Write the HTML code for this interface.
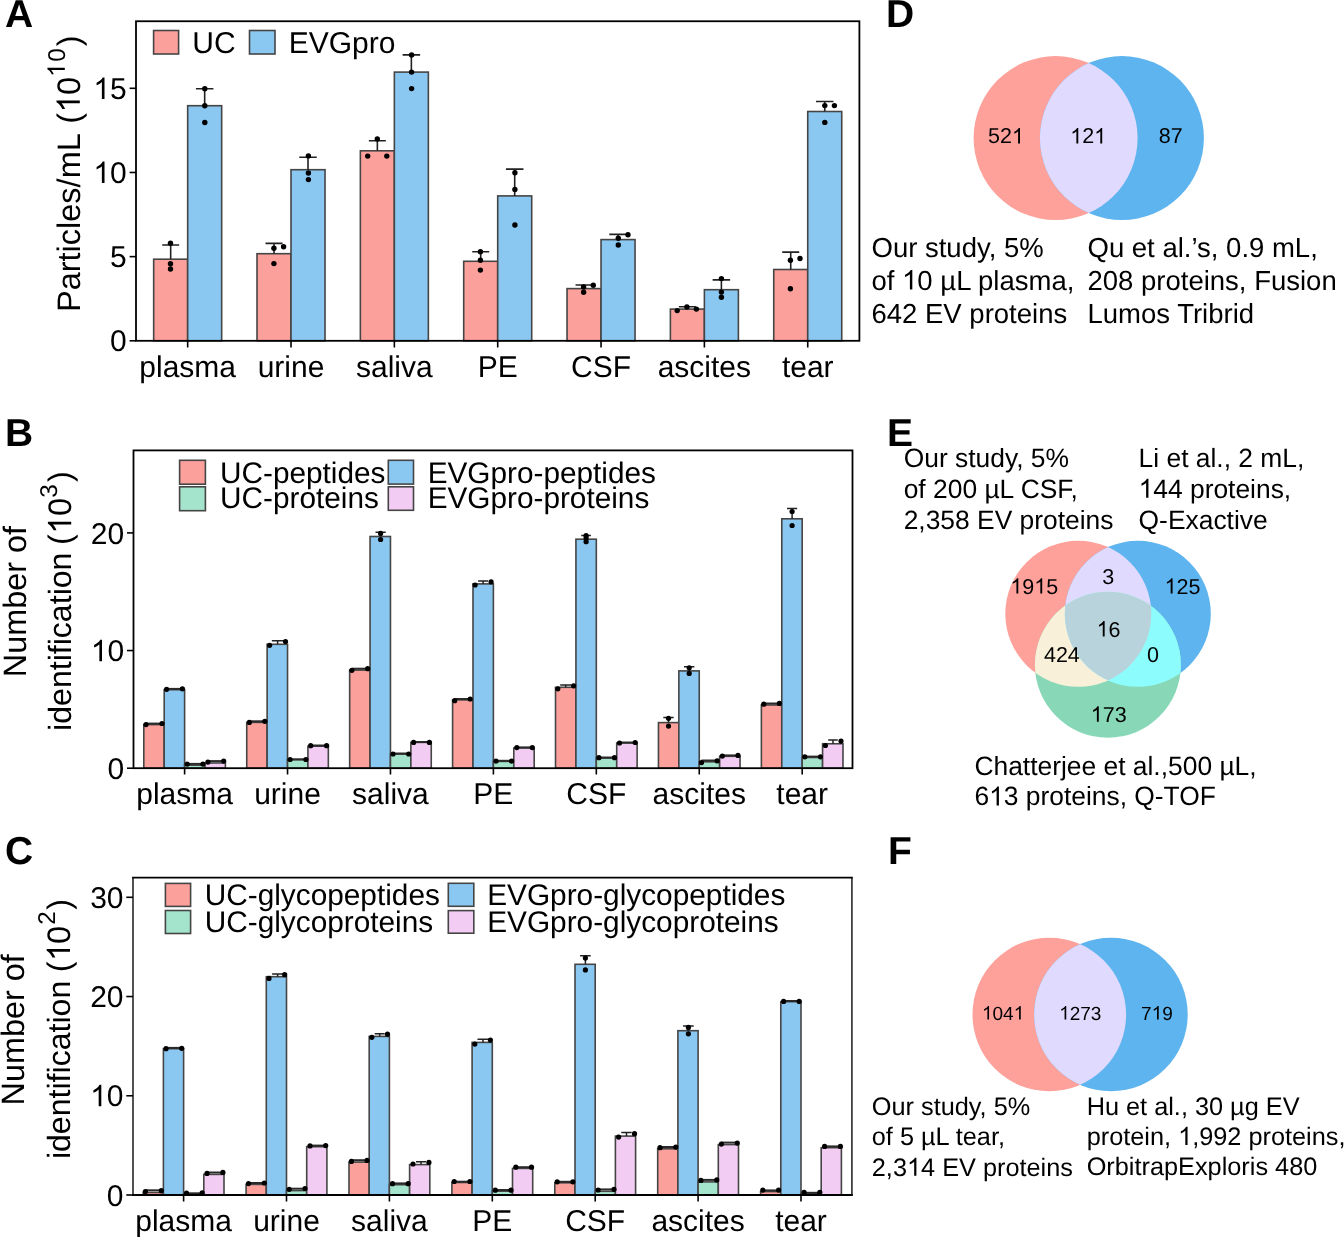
<!DOCTYPE html><html><head><meta charset="utf-8"><style>html,body{margin:0;padding:0;background:#fff;overflow:hidden}svg{display:block;will-change:transform}text{font-family:"Liberation Sans", sans-serif;fill:#000;text-rendering:geometricPrecision}</style></head><body>
<svg width="1344" height="1237" viewBox="0 0 1344 1237">
<rect width="1344" height="1237" fill="#fff"/>
<rect x="153.67" y="259.2" width="34" height="81.6" fill="#FCA09C" stroke="#454545" stroke-width="1.6"/>
<rect x="187.67" y="105.7" width="34" height="235.1" fill="#8AC8F2" stroke="#454545" stroke-width="1.6"/>
<rect x="257.01" y="253.7" width="34" height="87.1" fill="#FCA09C" stroke="#454545" stroke-width="1.6"/>
<rect x="291.01" y="169.7" width="34" height="171.1" fill="#8AC8F2" stroke="#454545" stroke-width="1.6"/>
<rect x="360.36" y="150.8" width="34" height="190" fill="#FCA09C" stroke="#454545" stroke-width="1.6"/>
<rect x="394.36" y="72.1" width="34" height="268.7" fill="#8AC8F2" stroke="#454545" stroke-width="1.6"/>
<rect x="463.7" y="261.3" width="34" height="79.5" fill="#FCA09C" stroke="#454545" stroke-width="1.6"/>
<rect x="497.7" y="195.9" width="34" height="144.9" fill="#8AC8F2" stroke="#454545" stroke-width="1.6"/>
<rect x="567.04" y="288.6" width="34" height="52.2" fill="#FCA09C" stroke="#454545" stroke-width="1.6"/>
<rect x="601.04" y="239.6" width="34" height="101.2" fill="#8AC8F2" stroke="#454545" stroke-width="1.6"/>
<rect x="670.39" y="309.1" width="34" height="31.7" fill="#FCA09C" stroke="#454545" stroke-width="1.6"/>
<rect x="704.39" y="289.7" width="34" height="51.1" fill="#8AC8F2" stroke="#454545" stroke-width="1.6"/>
<rect x="773.73" y="269.5" width="34" height="71.3" fill="#FCA09C" stroke="#454545" stroke-width="1.6"/>
<rect x="807.73" y="111.5" width="34" height="229.3" fill="#8AC8F2" stroke="#454545" stroke-width="1.6"/>
<path d="M170.67 259.2V245M162.17 245H179.17" stroke="#222" stroke-width="1.6" fill="none"/>
<path d="M204.67 105.7V88.8M195.92 88.8H213.42" stroke="#222" stroke-width="1.6" fill="none"/>
<circle cx="170.5" cy="243.2" r="2.7" fill="#000"/>
<circle cx="170.5" cy="263.8" r="2.7" fill="#000"/>
<circle cx="170.5" cy="269" r="2.7" fill="#000"/>
<circle cx="204.8" cy="88.8" r="2.7" fill="#000"/>
<circle cx="204.8" cy="105.7" r="2.7" fill="#000"/>
<circle cx="204.8" cy="122.5" r="2.7" fill="#000"/>
<path d="M274.01 253.7V243.4M265.51 243.4H282.51" stroke="#222" stroke-width="1.6" fill="none"/>
<path d="M308.01 169.7V157.3M299.26 157.3H316.76" stroke="#222" stroke-width="1.6" fill="none"/>
<circle cx="273.9" cy="248.2" r="2.7" fill="#000"/>
<circle cx="283.6" cy="246.8" r="2.7" fill="#000"/>
<circle cx="273.9" cy="263.6" r="2.7" fill="#000"/>
<circle cx="308.4" cy="155.9" r="2.7" fill="#000"/>
<circle cx="308.4" cy="173" r="2.7" fill="#000"/>
<circle cx="308.4" cy="179.6" r="2.7" fill="#000"/>
<path d="M377.36 150.8V140.7M368.86 140.7H385.86" stroke="#222" stroke-width="1.6" fill="none"/>
<path d="M411.36 72.1V54.9M402.61 54.9H420.11" stroke="#222" stroke-width="1.6" fill="none"/>
<circle cx="377.3" cy="138.9" r="2.7" fill="#000"/>
<circle cx="367.7" cy="156.1" r="2.7" fill="#000"/>
<circle cx="386.8" cy="156.1" r="2.7" fill="#000"/>
<circle cx="411.6" cy="54.9" r="2.7" fill="#000"/>
<circle cx="411.6" cy="72.1" r="2.7" fill="#000"/>
<circle cx="411.6" cy="88.6" r="2.7" fill="#000"/>
<path d="M480.7 261.3V251.7M472.2 251.7H489.2" stroke="#222" stroke-width="1.6" fill="none"/>
<path d="M514.7 195.9V169.1M505.95 169.1H523.45" stroke="#222" stroke-width="1.6" fill="none"/>
<circle cx="480.4" cy="251.7" r="2.7" fill="#000"/>
<circle cx="480.4" cy="260.3" r="2.7" fill="#000"/>
<circle cx="480.4" cy="270.1" r="2.7" fill="#000"/>
<circle cx="514.9" cy="172.8" r="2.7" fill="#000"/>
<circle cx="514.9" cy="189.5" r="2.7" fill="#000"/>
<circle cx="514.9" cy="225" r="2.7" fill="#000"/>
<path d="M584.04 288.6V285M575.54 285H592.54" stroke="#222" stroke-width="1.6" fill="none"/>
<path d="M618.04 239.6V234.4M609.29 234.4H626.79" stroke="#222" stroke-width="1.6" fill="none"/>
<circle cx="583.6" cy="286.9" r="2.7" fill="#000"/>
<circle cx="583.6" cy="292.2" r="2.7" fill="#000"/>
<circle cx="593.3" cy="285.3" r="2.7" fill="#000"/>
<circle cx="618.3" cy="238.2" r="2.7" fill="#000"/>
<circle cx="618.3" cy="245" r="2.7" fill="#000"/>
<circle cx="628" cy="234.8" r="2.7" fill="#000"/>
<path d="M687.39 309.1V306.7M678.89 306.7H695.89" stroke="#222" stroke-width="1.6" fill="none"/>
<path d="M721.39 289.7V279.9M712.64 279.9H730.14" stroke="#222" stroke-width="1.6" fill="none"/>
<circle cx="677.2" cy="310.6" r="2.7" fill="#000"/>
<circle cx="686.9" cy="307" r="2.7" fill="#000"/>
<circle cx="696.4" cy="309.1" r="2.7" fill="#000"/>
<circle cx="721.4" cy="278.6" r="2.7" fill="#000"/>
<circle cx="721.4" cy="292.1" r="2.7" fill="#000"/>
<circle cx="721.4" cy="297.2" r="2.7" fill="#000"/>
<path d="M790.73 269.5V252.1M782.23 252.1H799.23" stroke="#222" stroke-width="1.6" fill="none"/>
<path d="M824.73 111.5V101.5M815.98 101.5H833.48" stroke="#222" stroke-width="1.6" fill="none"/>
<circle cx="790.4" cy="260.2" r="2.7" fill="#000"/>
<circle cx="800" cy="258.5" r="2.7" fill="#000"/>
<circle cx="790.4" cy="288.8" r="2.7" fill="#000"/>
<circle cx="824.8" cy="105.6" r="2.7" fill="#000"/>
<circle cx="834.4" cy="105.6" r="2.7" fill="#000"/>
<circle cx="824.8" cy="122.4" r="2.7" fill="#000"/>
<rect x="136" y="21.25" width="723.4" height="319.55" fill="none" stroke="#000" stroke-width="1.8"/>
<path d="M129.6 340.8H136" stroke="#000" stroke-width="1.6"/>
<text x="126.7" y="351.4" font-size="30" text-anchor="end">0</text>
<path d="M129.6 256.63H136" stroke="#000" stroke-width="1.6"/>
<text x="126.7" y="267.23" font-size="30" text-anchor="end">5</text>
<path d="M129.6 172.47H136" stroke="#000" stroke-width="1.6"/>
<text x="93.33" y="183.07" font-size="30"> 0</text>
<path transform="translate(93.33 183.07) scale(0.01465 -0.01465)" d="M763 0L583 0L583 1147Q518 1085 412 1023Q306 961 223 930L223 1104Q373 1174 485 1274Q597 1374 643 1468L763 1468Z"/>
<path d="M129.6 88.3H136" stroke="#000" stroke-width="1.6"/>
<text x="93.33" y="98.9" font-size="30"> 5</text>
<path transform="translate(93.33 98.9) scale(0.01465 -0.01465)" d="M763 0L583 0L583 1147Q518 1085 412 1023Q306 961 223 930L223 1104Q373 1174 485 1274Q597 1374 643 1468L763 1468Z"/>
<path d="M187.67 340.8V347.5" stroke="#000" stroke-width="1.6"/>
<text x="187.67" y="376.5" font-size="30" text-anchor="middle">plasma</text>
<path d="M291.01 340.8V347.5" stroke="#000" stroke-width="1.6"/>
<text x="291.01" y="376.5" font-size="30" text-anchor="middle">urine</text>
<path d="M394.36 340.8V347.5" stroke="#000" stroke-width="1.6"/>
<text x="394.36" y="376.5" font-size="30" text-anchor="middle">saliva</text>
<path d="M497.7 340.8V347.5" stroke="#000" stroke-width="1.6"/>
<text x="497.7" y="376.5" font-size="30" text-anchor="middle">PE</text>
<path d="M601.04 340.8V347.5" stroke="#000" stroke-width="1.6"/>
<text x="601.04" y="376.5" font-size="30" text-anchor="middle">CSF</text>
<path d="M704.39 340.8V347.5" stroke="#000" stroke-width="1.6"/>
<text x="704.39" y="376.5" font-size="30" text-anchor="middle">ascites</text>
<path d="M807.73 340.8V347.5" stroke="#000" stroke-width="1.6"/>
<text x="807.73" y="376.5" font-size="30" text-anchor="middle">tear</text>
<rect x="153.6" y="30.5" width="25" height="23.5" fill="#FCA09C" stroke="#454545" stroke-width="1.6"/>
<text x="192.3" y="52.8" font-size="30">UC</text>
<rect x="249.5" y="30.5" width="25.5" height="23.5" fill="#8AC8F2" stroke="#454545" stroke-width="1.6"/>
<text x="288.7" y="52.8" font-size="30">EVGpro</text>
<text transform="translate(79.8 0) rotate(-90)" x="-312" y="0" font-size="32.5">Particles/mL</text>
<text transform="translate(79.8 0) rotate(-90)" x="-123.65" y="0" font-size="32.5">(</text>
<path transform="translate(79.8 0) rotate(-90) translate(-112.52 0) scale(0.01587 -0.01587)" d="M763 0L583 0L583 1147Q518 1085 412 1023Q306 961 223 930L223 1104Q373 1174 485 1274Q597 1374 643 1468L763 1468Z"/>
<text transform="translate(79.8 0) rotate(-90)" x="-95.1" y="0" font-size="32.5">0</text>
<path transform="translate(64.8 0) rotate(-90) translate(-76.85 0) scale(0.01187 -0.01187)" d="M763 0L583 0L583 1147Q518 1085 412 1023Q306 961 223 930L223 1104Q373 1174 485 1274Q597 1374 643 1468L763 1468Z"/>
<text transform="translate(64.8 0) rotate(-90)" x="-61.75" y="0" font-size="24.3">0</text>
<text transform="translate(79.8 0) rotate(-90)" x="-46.35" y="0" font-size="32.5">)</text>
<text x="5" y="26.8" font-size="39" font-weight="bold">A</text>
<rect x="143.8" y="724.6" width="20.4" height="43.6" fill="#FCA09C" stroke="#454545" stroke-width="1.6"/>
<rect x="164.2" y="689.7" width="20.4" height="78.5" fill="#8AC8F2" stroke="#454545" stroke-width="1.6"/>
<rect x="184.6" y="765.2" width="20.4" height="3" fill="#A4E4CC" stroke="#454545" stroke-width="1.6"/>
<rect x="205" y="763" width="20.4" height="5.2" fill="#F2CCF2" stroke="#454545" stroke-width="1.6"/>
<rect x="246.73" y="722.4" width="20.4" height="45.8" fill="#FCA09C" stroke="#454545" stroke-width="1.6"/>
<rect x="267.13" y="644.3" width="20.4" height="123.9" fill="#8AC8F2" stroke="#454545" stroke-width="1.6"/>
<rect x="287.53" y="759.7" width="20.4" height="8.5" fill="#A4E4CC" stroke="#454545" stroke-width="1.6"/>
<rect x="307.93" y="746.2" width="20.4" height="22" fill="#F2CCF2" stroke="#454545" stroke-width="1.6"/>
<rect x="349.66" y="670.1" width="20.4" height="98.1" fill="#FCA09C" stroke="#454545" stroke-width="1.6"/>
<rect x="370.06" y="536.5" width="20.4" height="231.7" fill="#8AC8F2" stroke="#454545" stroke-width="1.6"/>
<rect x="390.46" y="754.1" width="20.4" height="14.1" fill="#A4E4CC" stroke="#454545" stroke-width="1.6"/>
<rect x="410.86" y="742.4" width="20.4" height="25.8" fill="#F2CCF2" stroke="#454545" stroke-width="1.6"/>
<rect x="452.59" y="699.9" width="20.4" height="68.3" fill="#FCA09C" stroke="#454545" stroke-width="1.6"/>
<rect x="472.99" y="583.9" width="20.4" height="184.3" fill="#8AC8F2" stroke="#454545" stroke-width="1.6"/>
<rect x="493.39" y="761.4" width="20.4" height="6.8" fill="#A4E4CC" stroke="#454545" stroke-width="1.6"/>
<rect x="513.79" y="748" width="20.4" height="20.2" fill="#F2CCF2" stroke="#454545" stroke-width="1.6"/>
<rect x="555.52" y="687.3" width="20.4" height="80.9" fill="#FCA09C" stroke="#454545" stroke-width="1.6"/>
<rect x="575.92" y="539.2" width="20.4" height="229" fill="#8AC8F2" stroke="#454545" stroke-width="1.6"/>
<rect x="596.32" y="758.1" width="20.4" height="10.1" fill="#A4E4CC" stroke="#454545" stroke-width="1.6"/>
<rect x="616.72" y="743" width="20.4" height="25.2" fill="#F2CCF2" stroke="#454545" stroke-width="1.6"/>
<rect x="658.45" y="722.6" width="20.4" height="45.6" fill="#FCA09C" stroke="#454545" stroke-width="1.6"/>
<rect x="678.85" y="670.9" width="20.4" height="97.3" fill="#8AC8F2" stroke="#454545" stroke-width="1.6"/>
<rect x="699.25" y="761.8" width="20.4" height="6.4" fill="#A4E4CC" stroke="#454545" stroke-width="1.6"/>
<rect x="719.65" y="756.3" width="20.4" height="11.9" fill="#F2CCF2" stroke="#454545" stroke-width="1.6"/>
<rect x="761.38" y="705" width="20.4" height="63.2" fill="#FCA09C" stroke="#454545" stroke-width="1.6"/>
<rect x="781.78" y="518.8" width="20.4" height="249.4" fill="#8AC8F2" stroke="#454545" stroke-width="1.6"/>
<rect x="802.18" y="757.5" width="20.4" height="10.7" fill="#A4E4CC" stroke="#454545" stroke-width="1.6"/>
<rect x="822.58" y="743.75" width="20.4" height="24.45" fill="#F2CCF2" stroke="#454545" stroke-width="1.6"/>
<path d="M146 723.6H162" stroke="#2a2a2a" stroke-width="2"/>
<circle cx="146" cy="724.6" r="2.6" fill="#000"/>
<circle cx="162" cy="723.5" r="2.6" fill="#000"/>
<path d="M166.6 688.9H182.4" stroke="#2a2a2a" stroke-width="2"/>
<circle cx="166.6" cy="689.3" r="2.6" fill="#000"/>
<circle cx="182.4" cy="688.8" r="2.6" fill="#000"/>
<path d="M187.2 763.9H202.9" stroke="#2a2a2a" stroke-width="2"/>
<circle cx="187.2" cy="764.1" r="2.6" fill="#000"/>
<circle cx="202.9" cy="764.1" r="2.6" fill="#000"/>
<path d="M207.9 761.1H223.7" stroke="#2a2a2a" stroke-width="2"/>
<circle cx="207.9" cy="762.1" r="2.6" fill="#000"/>
<circle cx="223.7" cy="761.1" r="2.6" fill="#000"/>
<path d="M249.3 721.3H264.8" stroke="#2a2a2a" stroke-width="2"/>
<circle cx="249.3" cy="722.4" r="2.6" fill="#000"/>
<circle cx="264.8" cy="721.3" r="2.6" fill="#000"/>
<path d="M277.6 644.3V640.7M271.85 640.7H283.35" stroke="#222" stroke-width="1.5" fill="none"/>
<circle cx="269.6" cy="645.3" r="2.6" fill="#000"/>
<circle cx="285.5" cy="641.5" r="2.6" fill="#000"/>
<path d="M290.1 759.3H305.9" stroke="#2a2a2a" stroke-width="2"/>
<circle cx="290.1" cy="759.5" r="2.6" fill="#000"/>
<circle cx="305.9" cy="759.5" r="2.6" fill="#000"/>
<path d="M310.7 745.5H326.6" stroke="#2a2a2a" stroke-width="2"/>
<circle cx="310.7" cy="745.7" r="2.6" fill="#000"/>
<circle cx="326.6" cy="745.7" r="2.6" fill="#000"/>
<path d="M351.9 668.7H367.7" stroke="#2a2a2a" stroke-width="2"/>
<circle cx="351.9" cy="670.3" r="2.6" fill="#000"/>
<circle cx="367.7" cy="668.7" r="2.6" fill="#000"/>
<path d="M380.6 536.5V532.3M375.5 532.3H385.7" stroke="#222" stroke-width="1.5" fill="none"/>
<circle cx="380.6" cy="533.4" r="2.6" fill="#000"/>
<circle cx="380.6" cy="539.5" r="2.6" fill="#000"/>
<path d="M393 753.5H408.7" stroke="#2a2a2a" stroke-width="2"/>
<circle cx="393" cy="754" r="2.6" fill="#000"/>
<circle cx="408.7" cy="754" r="2.6" fill="#000"/>
<path d="M413.6 742H429.4" stroke="#2a2a2a" stroke-width="2"/>
<circle cx="413.6" cy="742.4" r="2.6" fill="#000"/>
<circle cx="429.4" cy="742.4" r="2.6" fill="#000"/>
<path d="M454.7 699H470.2" stroke="#2a2a2a" stroke-width="2"/>
<circle cx="454.7" cy="700.7" r="2.6" fill="#000"/>
<circle cx="470.2" cy="699" r="2.6" fill="#000"/>
<path d="M483.1 583.9V581.1M478.1 581.1H488.1" stroke="#222" stroke-width="1.5" fill="none"/>
<circle cx="475.1" cy="585" r="2.6" fill="#000"/>
<circle cx="491.1" cy="581.8" r="2.6" fill="#000"/>
<path d="M496 760.8H511.6" stroke="#2a2a2a" stroke-width="2"/>
<circle cx="496" cy="761.2" r="2.6" fill="#000"/>
<circle cx="511.6" cy="761.2" r="2.6" fill="#000"/>
<path d="M516.8 747.4H532.3" stroke="#2a2a2a" stroke-width="2"/>
<circle cx="516.8" cy="747.6" r="2.6" fill="#000"/>
<circle cx="532.3" cy="747.6" r="2.6" fill="#000"/>
<path d="M565.7 687.3V684.9M560.2 684.9H571.2" stroke="#222" stroke-width="1.5" fill="none"/>
<circle cx="557.8" cy="688.8" r="2.6" fill="#000"/>
<circle cx="573.6" cy="685.8" r="2.6" fill="#000"/>
<path d="M586.1 539.2V535.4M581.25 535.4H590.95" stroke="#222" stroke-width="1.5" fill="none"/>
<circle cx="586.1" cy="535.6" r="2.6" fill="#000"/>
<circle cx="586.1" cy="537.9" r="2.6" fill="#000"/>
<circle cx="586.1" cy="541.7" r="2.6" fill="#000"/>
<path d="M598.9 757.5H614.5" stroke="#2a2a2a" stroke-width="2"/>
<circle cx="598.9" cy="757.7" r="2.6" fill="#000"/>
<circle cx="614.5" cy="757.7" r="2.6" fill="#000"/>
<path d="M619.5 742.5H635.2" stroke="#2a2a2a" stroke-width="2"/>
<circle cx="619.5" cy="743" r="2.6" fill="#000"/>
<circle cx="635.2" cy="742.5" r="2.6" fill="#000"/>
<path d="M668.5 722.6V717.4M663.3 717.4H673.7" stroke="#222" stroke-width="1.5" fill="none"/>
<circle cx="668.5" cy="718.3" r="2.6" fill="#000"/>
<circle cx="668.5" cy="726.1" r="2.6" fill="#000"/>
<path d="M689.2 670.9V666.8M684 666.8H694.4" stroke="#222" stroke-width="1.5" fill="none"/>
<circle cx="689.2" cy="667.8" r="2.6" fill="#000"/>
<circle cx="689.2" cy="673.4" r="2.6" fill="#000"/>
<path d="M701.5 760.5H717.2" stroke="#2a2a2a" stroke-width="2"/>
<circle cx="701.5" cy="762.6" r="2.6" fill="#000"/>
<circle cx="717.2" cy="760.9" r="2.6" fill="#000"/>
<path d="M722.3 755.4H738" stroke="#2a2a2a" stroke-width="2"/>
<circle cx="722.3" cy="756.1" r="2.6" fill="#000"/>
<circle cx="738" cy="755.4" r="2.6" fill="#000"/>
<path d="M763.75 703.5H779.4" stroke="#2a2a2a" stroke-width="2"/>
<circle cx="763.75" cy="704.2" r="2.6" fill="#000"/>
<circle cx="779.4" cy="703.4" r="2.6" fill="#000"/>
<path d="M792.1 518.8V508.4M787.05 508.4H797.15" stroke="#222" stroke-width="1.5" fill="none"/>
<circle cx="792.1" cy="511.5" r="2.6" fill="#000"/>
<circle cx="792.1" cy="525.5" r="2.6" fill="#000"/>
<path d="M804.8 756.6H820.5" stroke="#2a2a2a" stroke-width="2"/>
<circle cx="804.8" cy="756.8" r="2.6" fill="#000"/>
<circle cx="820.5" cy="756.8" r="2.6" fill="#000"/>
<path d="M833 743.75V739.9M828.2 739.9H837.8" stroke="#222" stroke-width="1.5" fill="none"/>
<circle cx="825.4" cy="745.5" r="2.6" fill="#000"/>
<circle cx="841" cy="741.1" r="2.6" fill="#000"/>
<rect x="133.5" y="450.4" width="719" height="317.8" fill="none" stroke="#000" stroke-width="1.8"/>
<path d="M127 768.2H133.5" stroke="#000" stroke-width="1.6"/>
<text x="124.2" y="778.8" font-size="30" text-anchor="end">0</text>
<path d="M127 650.55H133.5" stroke="#000" stroke-width="1.6"/>
<text x="90.83" y="661.15" font-size="30"> 0</text>
<path transform="translate(90.83 661.15) scale(0.01465 -0.01465)" d="M763 0L583 0L583 1147Q518 1085 412 1023Q306 961 223 930L223 1104Q373 1174 485 1274Q597 1374 643 1468L763 1468Z"/>
<path d="M127 532.9H133.5" stroke="#000" stroke-width="1.6"/>
<text x="124.2" y="543.5" font-size="30" text-anchor="end">20</text>
<path d="M184.6 768.2V774.5" stroke="#000" stroke-width="1.6"/>
<text x="184.6" y="803.5" font-size="30" text-anchor="middle">plasma</text>
<path d="M287.53 768.2V774.5" stroke="#000" stroke-width="1.6"/>
<text x="287.53" y="803.5" font-size="30" text-anchor="middle">urine</text>
<path d="M390.46 768.2V774.5" stroke="#000" stroke-width="1.6"/>
<text x="390.46" y="803.5" font-size="30" text-anchor="middle">saliva</text>
<path d="M493.39 768.2V774.5" stroke="#000" stroke-width="1.6"/>
<text x="493.39" y="803.5" font-size="30" text-anchor="middle">PE</text>
<path d="M596.32 768.2V774.5" stroke="#000" stroke-width="1.6"/>
<text x="596.32" y="803.5" font-size="30" text-anchor="middle">CSF</text>
<path d="M699.25 768.2V774.5" stroke="#000" stroke-width="1.6"/>
<text x="699.25" y="803.5" font-size="30" text-anchor="middle">ascites</text>
<path d="M802.18 768.2V774.5" stroke="#000" stroke-width="1.6"/>
<text x="802.18" y="803.5" font-size="30" text-anchor="middle">tear</text>
<rect x="179.6" y="460.3" width="25.8" height="23.9" fill="#FCA09C" stroke="#454545" stroke-width="1.6"/>
<rect x="179.6" y="486.8" width="25.8" height="23.9" fill="#A4E4CC" stroke="#454545" stroke-width="1.6"/>
<text x="220.1" y="482.6" font-size="29.75">UC-peptides</text>
<text x="220.1" y="508.4" font-size="29.75">UC-proteins</text>
<rect x="388.3" y="460.3" width="25.2" height="23.8" fill="#8AC8F2" stroke="#454545" stroke-width="1.6"/>
<rect x="388.3" y="486.8" width="25.2" height="23.5" fill="#F2CCF2" stroke="#454545" stroke-width="1.6"/>
<text x="427.7" y="482.6" font-size="29.75">EVGpro-peptides</text>
<text x="427.7" y="508.4" font-size="29.75">EVGpro-proteins</text>
<text transform="translate(26.2 0) rotate(-90)" x="-677.2" y="0" font-size="32.4">Number of</text>
<text transform="translate(71.2 0) rotate(-90)" x="-730.9" y="0" font-size="32.1">identification</text>
<text transform="translate(71.2 0) rotate(-90)" x="-545.05" y="0" font-size="32.5">(</text>
<path transform="translate(71.2 0) rotate(-90) translate(-533.87 0) scale(0.01587 -0.01587)" d="M763 0L583 0L583 1147Q518 1085 412 1023Q306 961 223 930L223 1104Q373 1174 485 1274Q597 1374 643 1468L763 1468Z"/>
<text transform="translate(71.2 0) rotate(-90)" x="-515.95" y="0" font-size="32.5">0</text>
<text transform="translate(56.9 0) rotate(-90)" x="-497.8" y="0" font-size="24.3">3</text>
<text transform="translate(71.2 0) rotate(-90)" x="-482.05" y="0" font-size="32.5">)</text>
<text x="5" y="445.7" font-size="39" font-weight="bold">B</text>
<rect x="143.2" y="1192.5" width="20.2" height="2.5" fill="#FCA09C" stroke="#454545" stroke-width="1.6"/>
<rect x="163.4" y="1048.7" width="20.2" height="146.3" fill="#8AC8F2" stroke="#454545" stroke-width="1.6"/>
<rect x="183.6" y="1194" width="20.2" height="1" fill="#A4E4CC" stroke="#454545" stroke-width="1.6"/>
<rect x="203.8" y="1174.4" width="20.2" height="20.6" fill="#F2CCF2" stroke="#454545" stroke-width="1.6"/>
<rect x="246.1" y="1184.4" width="20.2" height="10.6" fill="#FCA09C" stroke="#454545" stroke-width="1.6"/>
<rect x="266.3" y="976.7" width="20.2" height="218.3" fill="#8AC8F2" stroke="#454545" stroke-width="1.6"/>
<rect x="286.5" y="1190.6" width="20.2" height="4.4" fill="#A4E4CC" stroke="#454545" stroke-width="1.6"/>
<rect x="306.7" y="1146.7" width="20.2" height="48.3" fill="#F2CCF2" stroke="#454545" stroke-width="1.6"/>
<rect x="349" y="1162.1" width="20.2" height="32.9" fill="#FCA09C" stroke="#454545" stroke-width="1.6"/>
<rect x="369.2" y="1036.4" width="20.2" height="158.6" fill="#8AC8F2" stroke="#454545" stroke-width="1.6"/>
<rect x="389.4" y="1184.7" width="20.2" height="10.3" fill="#A4E4CC" stroke="#454545" stroke-width="1.6"/>
<rect x="409.6" y="1164.6" width="20.2" height="30.4" fill="#F2CCF2" stroke="#454545" stroke-width="1.6"/>
<rect x="451.9" y="1182.5" width="20.2" height="12.5" fill="#FCA09C" stroke="#454545" stroke-width="1.6"/>
<rect x="472.1" y="1042.4" width="20.2" height="152.6" fill="#8AC8F2" stroke="#454545" stroke-width="1.6"/>
<rect x="492.3" y="1191.2" width="20.2" height="3.8" fill="#A4E4CC" stroke="#454545" stroke-width="1.6"/>
<rect x="512.5" y="1168.4" width="20.2" height="26.6" fill="#F2CCF2" stroke="#454545" stroke-width="1.6"/>
<rect x="554.8" y="1182.8" width="20.2" height="12.2" fill="#FCA09C" stroke="#454545" stroke-width="1.6"/>
<rect x="575" y="964.3" width="20.2" height="230.7" fill="#8AC8F2" stroke="#454545" stroke-width="1.6"/>
<rect x="595.2" y="1191.3" width="20.2" height="3.7" fill="#A4E4CC" stroke="#454545" stroke-width="1.6"/>
<rect x="615.4" y="1136.1" width="20.2" height="58.9" fill="#F2CCF2" stroke="#454545" stroke-width="1.6"/>
<rect x="657.7" y="1148.8" width="20.2" height="46.2" fill="#FCA09C" stroke="#454545" stroke-width="1.6"/>
<rect x="677.9" y="1030.7" width="20.2" height="164.3" fill="#8AC8F2" stroke="#454545" stroke-width="1.6"/>
<rect x="698.1" y="1181.9" width="20.2" height="13.1" fill="#A4E4CC" stroke="#454545" stroke-width="1.6"/>
<rect x="718.3" y="1144.6" width="20.2" height="50.4" fill="#F2CCF2" stroke="#454545" stroke-width="1.6"/>
<rect x="760.6" y="1191.6" width="20.2" height="3.4" fill="#FCA09C" stroke="#454545" stroke-width="1.6"/>
<rect x="780.8" y="1001.7" width="20.2" height="193.3" fill="#8AC8F2" stroke="#454545" stroke-width="1.6"/>
<rect x="801" y="1193.5" width="20.2" height="1.5" fill="#A4E4CC" stroke="#454545" stroke-width="1.6"/>
<rect x="821.2" y="1147.7" width="20.2" height="47.3" fill="#F2CCF2" stroke="#454545" stroke-width="1.6"/>
<path d="M145.4 1190.3H161.3" stroke="#2a2a2a" stroke-width="2"/>
<circle cx="145.4" cy="1191.6" r="2.6" fill="#000"/>
<circle cx="161.3" cy="1190.7" r="2.6" fill="#000"/>
<path d="M166 1047.9H181.7" stroke="#2a2a2a" stroke-width="2"/>
<circle cx="166" cy="1048.7" r="2.6" fill="#000"/>
<circle cx="181.7" cy="1048.3" r="2.6" fill="#000"/>
<path d="M186.5 1193.3H202.2" stroke="#2a2a2a" stroke-width="2"/>
<circle cx="186.5" cy="1193.2" r="2.6" fill="#000"/>
<circle cx="202.2" cy="1192.8" r="2.6" fill="#000"/>
<path d="M207 1172.5H222.9" stroke="#2a2a2a" stroke-width="2"/>
<circle cx="207" cy="1173.4" r="2.6" fill="#000"/>
<circle cx="222.9" cy="1172.4" r="2.6" fill="#000"/>
<path d="M248.5 1183H264.3" stroke="#2a2a2a" stroke-width="2"/>
<circle cx="248.5" cy="1183.6" r="2.6" fill="#000"/>
<circle cx="264.3" cy="1183" r="2.6" fill="#000"/>
<path d="M277.6 976.7V974.1M272.1 974.1H283.1" stroke="#222" stroke-width="1.5" fill="none"/>
<circle cx="269" cy="978.4" r="2.6" fill="#000"/>
<circle cx="284.7" cy="974.7" r="2.6" fill="#000"/>
<path d="M289.2 1188.7H305" stroke="#2a2a2a" stroke-width="2"/>
<circle cx="289.2" cy="1189.3" r="2.6" fill="#000"/>
<circle cx="305" cy="1188.5" r="2.6" fill="#000"/>
<path d="M310 1145.6H325.7" stroke="#2a2a2a" stroke-width="2"/>
<circle cx="310" cy="1145.9" r="2.6" fill="#000"/>
<circle cx="325.7" cy="1145.6" r="2.6" fill="#000"/>
<path d="M351.4 1160.2H367.1" stroke="#2a2a2a" stroke-width="2"/>
<circle cx="351.4" cy="1161.4" r="2.6" fill="#000"/>
<circle cx="367.1" cy="1160.4" r="2.6" fill="#000"/>
<path d="M379.7 1036.4V1033.7M374.7 1033.7H384.7" stroke="#222" stroke-width="1.5" fill="none"/>
<circle cx="371.8" cy="1037.3" r="2.6" fill="#000"/>
<circle cx="387.5" cy="1034.2" r="2.6" fill="#000"/>
<path d="M392.5 1183.4H408.2" stroke="#2a2a2a" stroke-width="2"/>
<circle cx="392.5" cy="1183.7" r="2.6" fill="#000"/>
<circle cx="408.2" cy="1183.7" r="2.6" fill="#000"/>
<path d="M421 1164.6V1161.8M416 1161.8H426" stroke="#222" stroke-width="1.5" fill="none"/>
<circle cx="413" cy="1164" r="2.6" fill="#000"/>
<circle cx="428.9" cy="1162.4" r="2.6" fill="#000"/>
<path d="M454.2 1181.7H469.9" stroke="#2a2a2a" stroke-width="2"/>
<circle cx="454.2" cy="1181.5" r="2.6" fill="#000"/>
<circle cx="469.9" cy="1181.5" r="2.6" fill="#000"/>
<path d="M483 1042.4V1039.3M477.5 1039.3H488.5" stroke="#222" stroke-width="1.5" fill="none"/>
<circle cx="474.8" cy="1044.1" r="2.6" fill="#000"/>
<circle cx="490.4" cy="1040.1" r="2.6" fill="#000"/>
<path d="M495.3 1190H511" stroke="#2a2a2a" stroke-width="2"/>
<circle cx="495.3" cy="1190.2" r="2.6" fill="#000"/>
<circle cx="511" cy="1190.2" r="2.6" fill="#000"/>
<path d="M515.8 1167.2H531.5" stroke="#2a2a2a" stroke-width="2"/>
<circle cx="515.8" cy="1167.2" r="2.6" fill="#000"/>
<circle cx="531.5" cy="1167.2" r="2.6" fill="#000"/>
<path d="M557.2 1181.8H572.9" stroke="#2a2a2a" stroke-width="2"/>
<circle cx="557.2" cy="1181.8" r="2.6" fill="#000"/>
<circle cx="572.9" cy="1181.8" r="2.6" fill="#000"/>
<path d="M585.4 964.3V955.7M580.1 955.7H590.7" stroke="#222" stroke-width="1.5" fill="none"/>
<circle cx="585.4" cy="958.1" r="2.6" fill="#000"/>
<circle cx="585.4" cy="969.9" r="2.6" fill="#000"/>
<path d="M598.1 1189.4H614" stroke="#2a2a2a" stroke-width="2"/>
<circle cx="598.1" cy="1190" r="2.6" fill="#000"/>
<circle cx="614" cy="1189.3" r="2.6" fill="#000"/>
<path d="M626.5 1136.1V1132.6M621.3 1132.6H631.7" stroke="#222" stroke-width="1.5" fill="none"/>
<circle cx="618.6" cy="1137.1" r="2.6" fill="#000"/>
<circle cx="634.5" cy="1133.7" r="2.6" fill="#000"/>
<path d="M660 1147H675.8" stroke="#2a2a2a" stroke-width="2"/>
<circle cx="660" cy="1147.7" r="2.6" fill="#000"/>
<circle cx="675.8" cy="1147.1" r="2.6" fill="#000"/>
<path d="M688.4 1030.7V1026M683.1 1026H693.7" stroke="#222" stroke-width="1.5" fill="none"/>
<circle cx="688.4" cy="1027.4" r="2.6" fill="#000"/>
<circle cx="688.4" cy="1033.8" r="2.6" fill="#000"/>
<path d="M700.9 1179.9H716.8" stroke="#2a2a2a" stroke-width="2"/>
<circle cx="700.9" cy="1180.4" r="2.6" fill="#000"/>
<circle cx="716.8" cy="1179.9" r="2.6" fill="#000"/>
<path d="M721.4 1142.6H737.3" stroke="#2a2a2a" stroke-width="2"/>
<circle cx="721.4" cy="1144.1" r="2.6" fill="#000"/>
<circle cx="737.3" cy="1143.1" r="2.6" fill="#000"/>
<path d="M762.8 1190.4H778.6" stroke="#2a2a2a" stroke-width="2"/>
<circle cx="762.8" cy="1190.1" r="2.6" fill="#000"/>
<circle cx="778.6" cy="1190.1" r="2.6" fill="#000"/>
<path d="M783.6 1001H799.2" stroke="#2a2a2a" stroke-width="2"/>
<circle cx="783.6" cy="1001.4" r="2.6" fill="#000"/>
<circle cx="799.2" cy="1001.4" r="2.6" fill="#000"/>
<path d="M804.1 1192.8H819.8" stroke="#2a2a2a" stroke-width="2"/>
<circle cx="804.1" cy="1192.3" r="2.6" fill="#000"/>
<circle cx="819.8" cy="1192.3" r="2.6" fill="#000"/>
<path d="M824.6 1146.4H840.4" stroke="#2a2a2a" stroke-width="2"/>
<circle cx="824.6" cy="1146.4" r="2.6" fill="#000"/>
<circle cx="840.4" cy="1146.4" r="2.6" fill="#000"/>
<path d="M133 877.7V1195M851.9 877.7V1195" stroke="#404040" stroke-width="1.8" fill="none"/>
<path d="M133 877.7H851.9M133 1195H851.9" stroke="#000" stroke-width="1.8" fill="none" stroke-linecap="square"/>
<path d="M126.3 1195H133" stroke="#000" stroke-width="1.6"/>
<text x="123.5" y="1205.6" font-size="30" text-anchor="end">0</text>
<path d="M126.3 1095.77H133" stroke="#000" stroke-width="1.6"/>
<text x="90.13" y="1106.37" font-size="30"> 0</text>
<path transform="translate(90.13 1106.37) scale(0.01465 -0.01465)" d="M763 0L583 0L583 1147Q518 1085 412 1023Q306 961 223 930L223 1104Q373 1174 485 1274Q597 1374 643 1468L763 1468Z"/>
<path d="M126.3 996.53H133" stroke="#000" stroke-width="1.6"/>
<text x="123.5" y="1007.13" font-size="30" text-anchor="end">20</text>
<path d="M126.3 897.3H133" stroke="#000" stroke-width="1.6"/>
<text x="123.5" y="907.9" font-size="30" text-anchor="end">30</text>
<path d="M183.6 1195V1201.5" stroke="#000" stroke-width="1.6"/>
<text x="183.6" y="1230.6" font-size="30" text-anchor="middle">plasma</text>
<path d="M286.5 1195V1201.5" stroke="#000" stroke-width="1.6"/>
<text x="286.5" y="1230.6" font-size="30" text-anchor="middle">urine</text>
<path d="M389.4 1195V1201.5" stroke="#000" stroke-width="1.6"/>
<text x="389.4" y="1230.6" font-size="30" text-anchor="middle">saliva</text>
<path d="M492.3 1195V1201.5" stroke="#000" stroke-width="1.6"/>
<text x="492.3" y="1230.6" font-size="30" text-anchor="middle">PE</text>
<path d="M595.2 1195V1201.5" stroke="#000" stroke-width="1.6"/>
<text x="595.2" y="1230.6" font-size="30" text-anchor="middle">CSF</text>
<path d="M698.1 1195V1201.5" stroke="#000" stroke-width="1.6"/>
<text x="698.1" y="1230.6" font-size="30" text-anchor="middle">ascites</text>
<path d="M801 1195V1201.5" stroke="#000" stroke-width="1.6"/>
<text x="801" y="1230.6" font-size="30" text-anchor="middle">tear</text>
<rect x="165.4" y="883.4" width="25.2" height="23" fill="#FCA09C" stroke="#454545" stroke-width="1.6"/>
<rect x="165.4" y="910.5" width="25.2" height="23" fill="#A4E4CC" stroke="#454545" stroke-width="1.6"/>
<text x="204.7" y="904.8" font-size="29.8">UC-glycopeptides</text>
<text x="204.7" y="931.5" font-size="29.8">UC-glycoproteins</text>
<rect x="448.3" y="883.3" width="25.5" height="23" fill="#8AC8F2" stroke="#454545" stroke-width="1.6"/>
<rect x="448.3" y="910.6" width="25.5" height="22.6" fill="#F2CCF2" stroke="#454545" stroke-width="1.6"/>
<text x="487.2" y="904.8" font-size="29.8">EVGpro-glycopeptides</text>
<text x="487.2" y="931.5" font-size="29.8">EVGpro-glycoproteins</text>
<text transform="translate(24 0) rotate(-90)" x="-1105.4" y="0" font-size="32.4">Number of</text>
<text transform="translate(70 0) rotate(-90)" x="-1159.1" y="0" font-size="32.1">identification</text>
<text transform="translate(70 0) rotate(-90)" x="-972.15" y="0" font-size="32.5">(</text>
<path transform="translate(70 0) rotate(-90) translate(-961.02 0) scale(0.01587 -0.01587)" d="M763 0L583 0L583 1147Q518 1085 412 1023Q306 961 223 930L223 1104Q373 1174 485 1274Q597 1374 643 1468L763 1468Z"/>
<text transform="translate(70 0) rotate(-90)" x="-944" y="0" font-size="32.5">0</text>
<text transform="translate(54.7 0) rotate(-90)" x="-924.8" y="0" font-size="24.3">2</text>
<text transform="translate(70 0) rotate(-90)" x="-909.65" y="0" font-size="32.5">)</text>
<text x="5" y="864.1" font-size="39" font-weight="bold">C</text>
<text x="886" y="26.8" font-size="39" font-weight="bold">D</text>
<circle cx="1055.6" cy="138.1" r="82" fill="#FFA19B"/>
<circle cx="1121.9" cy="138.1" r="82" fill="#5EB4EE"/>
<clipPath id="c138"><circle cx="1055.6" cy="138.1" r="82"/></clipPath>
<circle cx="1121.9" cy="138.1" r="82" fill="#E0DAFE" clip-path="url(#c138)"/>
<text x="988.06" y="143.4" font-size="21.5">52 </text>
<path transform="translate(1011.98 143.4) scale(0.01050 -0.01050)" d="M763 0L583 0L583 1147Q518 1085 412 1023Q306 961 223 930L223 1104Q373 1174 485 1274Q597 1374 643 1468L763 1468Z"/>
<text x="1070.26" y="143.4" font-size="21.5"> 2 </text>
<path transform="translate(1070.26 143.4) scale(0.01050 -0.01050)" d="M763 0L583 0L583 1147Q518 1085 412 1023Q306 961 223 930L223 1104Q373 1174 485 1274Q597 1374 643 1468L763 1468Z"/>
<path transform="translate(1094.18 143.4) scale(0.01050 -0.01050)" d="M763 0L583 0L583 1147Q518 1085 412 1023Q306 961 223 930L223 1104Q373 1174 485 1274Q597 1374 643 1468L763 1468Z"/>
<text x="1170.7" y="143.4" font-size="21.5" text-anchor="middle">87</text>
<text x="871.5" y="256.7" font-size="27.5">Our study, 5%</text>
<text x="871.5" y="289.6" font-size="27.5">of  0 µL plasma,</text>
<path transform="translate(902.07 289.6) scale(0.01343 -0.01343)" d="M763 0L583 0L583 1147Q518 1085 412 1023Q306 961 223 930L223 1104Q373 1174 485 1274Q597 1374 643 1468L763 1468Z"/>
<text x="871.5" y="322.5" font-size="27.5">642 EV proteins</text>
<text x="1087.5" y="256.7" font-size="27.5">Qu et al.’s, 0.9 mL,</text>
<text x="1087.5" y="289.6" font-size="27.5">208 proteins, Fusion</text>
<text x="1087.5" y="322.5" font-size="27.5">Lumos Tribrid</text>
<text x="887" y="445.7" font-size="39" font-weight="bold">E</text>
<text x="903.7" y="466.7" font-size="26.4">Our study, 5%</text>
<text x="903.7" y="497.9" font-size="26.4">of 200 µL CSF,</text>
<text x="903.7" y="529.1" font-size="26.4">2,358 EV proteins</text>
<text x="1138.6" y="466.7" font-size="26.4">Li et al., 2 mL,</text>
<text x="1138.6" y="497.7" font-size="26.4"> 44 proteins,</text>
<path transform="translate(1138.6 497.7) scale(0.01289 -0.01289)" d="M763 0L583 0L583 1147Q518 1085 412 1023Q306 961 223 930L223 1104Q373 1174 485 1274Q597 1374 643 1468L763 1468Z"/>
<text x="1138.6" y="528.7" font-size="26.4">Q-Exactive</text>
<text x="974.4" y="774.5" font-size="26.4">Chatterjee et al.,500 µL,</text>
<text x="974.4" y="805.4" font-size="26.4">6 3 proteins, Q-TOF</text>
<path transform="translate(989.08 805.4) scale(0.01289 -0.01289)" d="M763 0L583 0L583 1147Q518 1085 412 1023Q306 961 223 930L223 1104Q373 1174 485 1274Q597 1374 643 1468L763 1468Z"/>
<defs><clipPath id="eR"><circle cx="1078.3" cy="613.8" r="73"/></clipPath><clipPath id="eB"><circle cx="1137.8" cy="613.8" r="73"/></clipPath><clipPath id="eG"><circle cx="1107.9" cy="664.7" r="73"/></clipPath></defs>
<circle cx="1078.3" cy="613.8" r="73" fill="#FFA19B"/>
<circle cx="1137.8" cy="613.8" r="73" fill="#5EB4EE"/>
<circle cx="1107.9" cy="664.7" r="73" fill="#88D8B8"/>
<circle cx="1137.8" cy="613.8" r="73" fill="#E0DAFE" clip-path="url(#eR)"/>
<circle cx="1107.9" cy="664.7" r="73" fill="#F9F0DA" clip-path="url(#eR)"/>
<circle cx="1107.9" cy="664.7" r="73" fill="#8CFDFC" clip-path="url(#eB)"/>
<g clip-path="url(#eR)"><circle cx="1107.9" cy="664.7" r="73" fill="#B9D3DD" clip-path="url(#eB)"/></g>
<text x="1010.29" y="593.6" font-size="21.5"> 9 5</text>
<path transform="translate(1010.29 593.6) scale(0.01050 -0.01050)" d="M763 0L583 0L583 1147Q518 1085 412 1023Q306 961 223 930L223 1104Q373 1174 485 1274Q597 1374 643 1468L763 1468Z"/>
<path transform="translate(1034.2 593.6) scale(0.01050 -0.01050)" d="M763 0L583 0L583 1147Q518 1085 412 1023Q306 961 223 930L223 1104Q373 1174 485 1274Q597 1374 643 1468L763 1468Z"/>
<text x="1108.3" y="583.6" font-size="21.5" text-anchor="middle">3</text>
<text x="1164.56" y="593.6" font-size="21.5"> 25</text>
<path transform="translate(1164.56 593.6) scale(0.01050 -0.01050)" d="M763 0L583 0L583 1147Q518 1085 412 1023Q306 961 223 930L223 1104Q373 1174 485 1274Q597 1374 643 1468L763 1468Z"/>
<text x="1096.64" y="636.5" font-size="21.5"> 6</text>
<path transform="translate(1096.64 636.5) scale(0.01050 -0.01050)" d="M763 0L583 0L583 1147Q518 1085 412 1023Q306 961 223 930L223 1104Q373 1174 485 1274Q597 1374 643 1468L763 1468Z"/>
<text x="1061.9" y="662.3" font-size="21.5" text-anchor="middle">424</text>
<text x="1153" y="662.3" font-size="21.5" text-anchor="middle">0</text>
<text x="1090.76" y="721.7" font-size="21.5"> 73</text>
<path transform="translate(1090.76 721.7) scale(0.01050 -0.01050)" d="M763 0L583 0L583 1147Q518 1085 412 1023Q306 961 223 930L223 1104Q373 1174 485 1274Q597 1374 643 1468L763 1468Z"/>
<text x="888" y="863.7" font-size="39" font-weight="bold">F</text>
<circle cx="1049.3" cy="1014.5" r="76.8" fill="#FFA19B"/>
<circle cx="1110.9" cy="1014.5" r="76.8" fill="#5EB4EE"/>
<clipPath id="c1014"><circle cx="1049.3" cy="1014.5" r="76.8"/></clipPath>
<circle cx="1110.9" cy="1014.5" r="76.8" fill="#E0DAFE" clip-path="url(#c1014)"/>
<text x="981.97" y="1019.5" font-size="19"> 04 </text>
<path transform="translate(981.97 1019.5) scale(0.00928 -0.00928)" d="M763 0L583 0L583 1147Q518 1085 412 1023Q306 961 223 930L223 1104Q373 1174 485 1274Q597 1374 643 1468L763 1468Z"/>
<path transform="translate(1013.67 1019.5) scale(0.00928 -0.00928)" d="M763 0L583 0L583 1147Q518 1085 412 1023Q306 961 223 930L223 1104Q373 1174 485 1274Q597 1374 643 1468L763 1468Z"/>
<text x="1059.17" y="1019.5" font-size="19"> 273</text>
<path transform="translate(1059.17 1019.5) scale(0.00928 -0.00928)" d="M763 0L583 0L583 1147Q518 1085 412 1023Q306 961 223 930L223 1104Q373 1174 485 1274Q597 1374 643 1468L763 1468Z"/>
<text x="1141.05" y="1019.5" font-size="19">7 9</text>
<path transform="translate(1151.62 1019.5) scale(0.00928 -0.00928)" d="M763 0L583 0L583 1147Q518 1085 412 1023Q306 961 223 930L223 1104Q373 1174 485 1274Q597 1374 643 1468L763 1468Z"/>
<text x="871.8" y="1115" font-size="25.3">Our study, 5%</text>
<text x="871.8" y="1145.4" font-size="25.3">of 5 µL tear,</text>
<text x="871.8" y="1175.8" font-size="25.3">2,3 4 EV proteins</text>
<path transform="translate(906.97 1175.8) scale(0.01235 -0.01235)" d="M763 0L583 0L583 1147Q518 1085 412 1023Q306 961 223 930L223 1104Q373 1174 485 1274Q597 1374 643 1468L763 1468Z"/>
<text x="1086.7" y="1114.8" font-size="25.3">Hu et al., 30 µg EV</text>
<text x="1086.7" y="1145" font-size="25.3">protein,  ,992 proteins,</text>
<path transform="translate(1178.12 1145) scale(0.01235 -0.01235)" d="M763 0L583 0L583 1147Q518 1085 412 1023Q306 961 223 930L223 1104Q373 1174 485 1274Q597 1374 643 1468L763 1468Z"/>
<text x="1086.7" y="1175.2" font-size="25.3">OrbitrapExploris 480</text>
</svg></body></html>
